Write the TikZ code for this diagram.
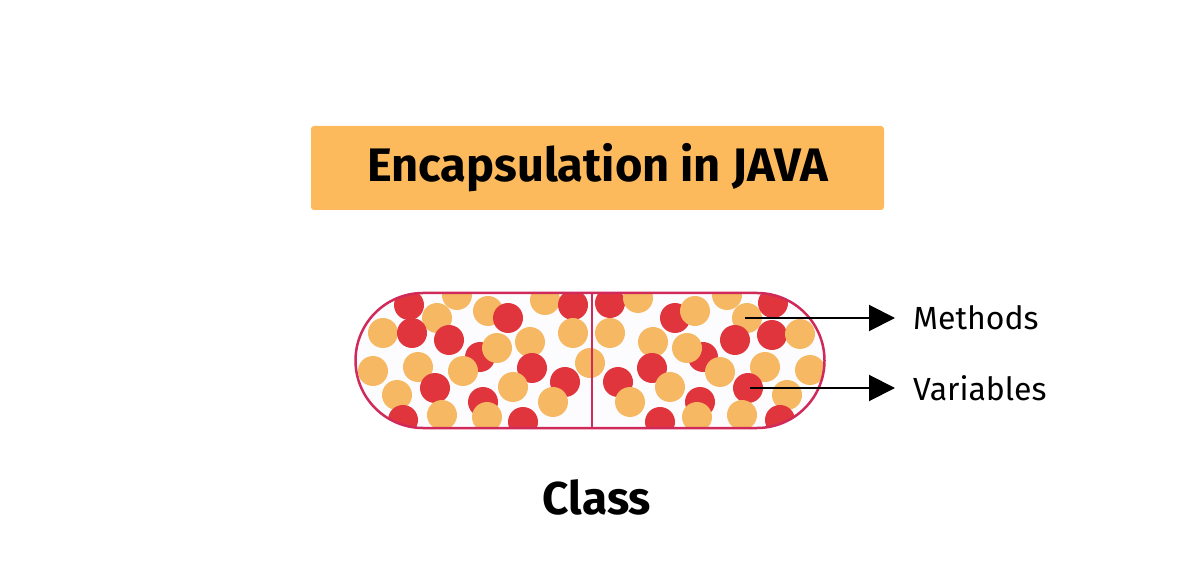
\documentclass[tikz,border=0pt]{standalone}
\usepackage{fontspec}
\setmainfont{Fira Sans}
\usetikzlibrary{arrows.meta}
\begin{document}
\begin{tikzpicture}[x=1pt,y=-1pt,
  red/.style={fill=cred},org/.style={fill=corg},
  arr/.style={line width=2pt,-{Triangle[length=26pt,width=26pt]}},
  lab/.style={anchor=west,inner sep=0pt,font=\fontsize{32}{36}\selectfont}]
\definecolor{cred}{HTML}{E1353D}
\definecolor{corg}{HTML}{F6B862}
\definecolor{cbox}{HTML}{FDBA5C}
\definecolor{cedge}{HTML}{D02A5A}
\useasboundingbox (0,0) rectangle (1200,569);
\node[fill=cbox,rounded corners=3pt,minimum width=573pt,minimum height=84pt,inner sep=0pt,font=\fontsize{47}{52}\selectfont\bfseries] (title) at (597.5,168) {Encapsulation in JAVA};
\def\caps{(355.5,293) [rounded corners=67.5pt] rectangle (824.5,428)}
\fill[fill=black!2!blue!1!white] \caps;
\begin{scope}
\clip \caps;
\foreach \x/\y/\c in {
457/295/org,409/305/red,437/318/org,383/333/org,412/333/red,449/340/red,488/311/org,508/318/red,
545/300/org,573/305/red,573/333/org,530/342/org,480/357/red,497/348/org,373/371/org,418/367/org,463/371/org,532/368/red,
590/363/org,435/388/red,397/395/org,565/382/red,513/387/org,553/402/org,483/402/red,487/417/org,442/415/org,403/420/red,523/422/red,
610/303/red,638/298/org,610/333/org,675/318/red,695/311/org,727/295/org,747/318/org,773/303/red,735/340/red,772/335/red,800/334/org,
653/342/org,703/357/red,687/348/org,652/368/red,720/372/org,765/367/org,810/370/org,618/382/red,670/387/org,748/388/red,787/395/org,
630/402/org,700/402/red,697/417/org,742/415/org,660/422/red,780/420/red}
  \fill[\c] (\x,\y) circle (15);
\end{scope}
\draw[cedge,line width=2.5pt] \caps;
\draw[cedge,line width=2.5pt] (592,293) -- (592,428);
\coordinate (m) at (745,318);
\coordinate (v) at (750,388);
\node[lab] (meth) at (913,318) {Methods};
\node[lab] (var) at (913,388) {Variables};
\draw[arr] (m) -- (m -| 895,0);
\draw[arr] (v) -- (v -| 895,0);
\node[font=\fontsize{46}{50}\selectfont\bfseries] (cls) at (597,497) {Class};
\end{tikzpicture}
\end{document}
